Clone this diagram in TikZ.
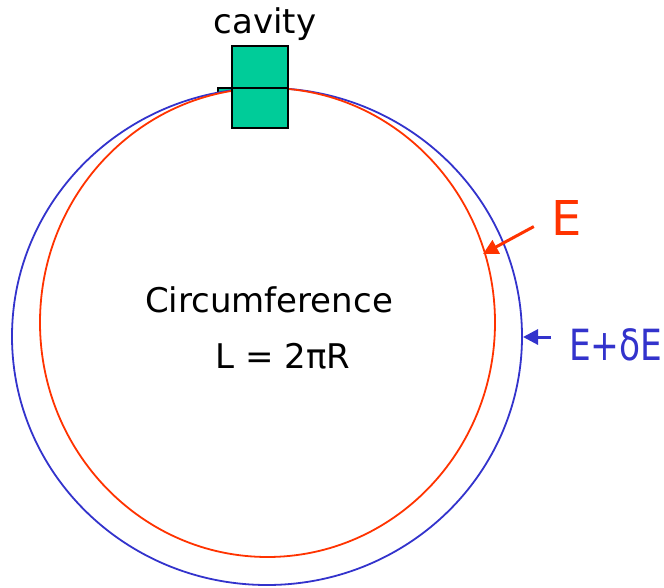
\documentclass[tikz,border=0pt]{standalone}
\usepackage{fontspec}
\setmainfont{DejaVu Sans}
\usetikzlibrary{arrows.meta, positioning, calc}
\definecolor{cavgreen}{RGB}{0,204,153}
\definecolor{ringred}{RGB}{255,51,0}
\definecolor{ringblue}{RGB}{51,51,204}

\begin{document}
\begin{tikzpicture}[
      x=1pt, y=-1pt,
      ring/.style={line width=1.8pt},
      cavbox/.style={draw=black, fill=cavgreen, line width=1.8pt},
      txt/.style={font=\fontsize{34}{40}\selectfont, inner sep=2pt},
      arrow/.style={-{Triangle[length=15pt,width=15pt]}, line width=3pt,
        shorten <=18pt}
    ]
    \useasboundingbox (0,0) rectangle (664,588);

    % ---- cavity stub behind the rings ----
    \filldraw[cavbox] (218,88) rectangle (288,104);
    \draw[ring, draw=ringblue, fill=white] (267,336.5) ellipse [x radius=255, y radius=248.5];
    \draw[ring, draw=ringred]  (267.5,322.5) ellipse [x radius=227.5, y radius=234.5];

    % ---- cavity ----
    \filldraw[cavbox] (232,46) rectangle (288,128);
    \draw[line width=1.8pt] (232,88) -- (288,88);
    \node[txt] (cav) at (265,24) {cavity};

    % ---- centre text ----
    \node[txt] (circ) at (269,300) {Circumference};
    \node[txt] (len) at (283,356) {L = 2πR};

    % ---- energy labels ----
    \node[txt, text=ringred, font=\fontsize{48}{56}\selectfont] (lE) at (567,218) {E};
    \node[txt, text=ringblue, font=\fontsize{43}{50}\selectfont, anchor=west] (lEd) at (567,345)
      {\scalebox{0.8}[1]{E+δE}};
    \coordinate (tipE) at (483,254);
    \coordinate (tipEd) at (523,337);

    \draw[arrow, ringred]  (lE.west) -- (tipE);
    \draw[arrow, ringblue, shorten <=16pt] (lEd.west |- tipEd) -- (tipEd);
  \end{tikzpicture}
\end{document}
